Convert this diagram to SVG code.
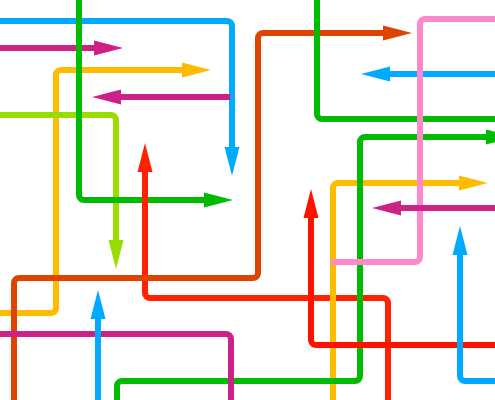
<svg xmlns="http://www.w3.org/2000/svg" xmlns:xlink="http://www.w3.org/1999/xlink" width="495" height="400" viewBox="0 0 495 400">
<style>
.c{fill:none;stroke-width:6;stroke-linejoin:round}
.blue{stroke:#00aaff}.fblue{fill:#00aaff}
.mag{stroke:#cc2288}.fmag{fill:#cc2288}
.yel{stroke:#ffbb00}.fyel{fill:#ffbb00}
.grn{stroke:#00bb00}.fgrn{fill:#00bb00}
.lime{stroke:#99dd00}.flime{fill:#99dd00}
.org{stroke:#dd4400}.forg{fill:#dd4400}
.pink{stroke:#ff88cc}
.red{stroke:#ff2200}.fred{fill:#ff2200}
.red2{stroke:#ff1100}.fred2{fill:#ff1100}
</style>
<defs>
<path id="ah" d="M0 0 L-29 -7.5 L-29 7.5 Z"/>
</defs>
<rect width="495" height="400" fill="#ffffff"/>
<g id="connectors">
<g id="blue1"><path class="c blue" d="M0 21 H227 A5 5 0 0 1 232 26 V148"/><use xlink:href="#ah" class="fblue" transform="translate(232,176) rotate(90)"/></g>
<g id="mag1"><path class="c mag" d="M0 48 H95"/><use xlink:href="#ah" class="fmag" transform="translate(123,48)"/></g>
<g id="yel1"><path class="c yel" d="M0 313 H51 A5 5 0 0 0 56 308 V75 A5 5 0 0 1 61 70 H183"/><use xlink:href="#ah" class="fyel" transform="translate(211,70)"/></g>
<g id="mag2"><path class="c mag" d="M230 97 H120"/><use xlink:href="#ah" class="fmag" transform="translate(92,97) rotate(180)"/></g>
<g id="lime1"><path class="c lime" d="M0 115 H111 A5 5 0 0 1 116 120 V241"/><use xlink:href="#ah" class="flime" transform="translate(116,269) rotate(90)"/></g>
<g id="grn1"><path class="c grn" d="M79 0 V195 A5 5 0 0 0 84 200 H205"/><use xlink:href="#ah" class="fgrn" transform="translate(233,200)"/></g>
<g id="red1"><path class="c red" d="M145 171 V293 A5 5 0 0 0 150 298 H383 A5 5 0 0 1 388 303 V400"/><use xlink:href="#ah" class="fred" transform="translate(145,143) rotate(-90)"/></g>
<g id="org1"><path class="c org" d="M14 400 V283 A5 5 0 0 1 19 278 H253 A5 5 0 0 0 258 273 V38 A5 5 0 0 1 263 33 H384"/><use xlink:href="#ah" class="forg" transform="translate(412,33)"/></g>
<g id="grn2"><path class="c grn" d="M317 0 V114 A5 5 0 0 0 322 119 H495"/></g>
<g id="blue2"><path class="c blue" d="M495 74 H389"/><use xlink:href="#ah" class="fblue" transform="translate(361,74) rotate(180)"/></g>
<g id="yel2"><path class="c yel" d="M333 400 V188 A5 5 0 0 1 338 183 H460"/><use xlink:href="#ah" class="fyel" transform="translate(488,183)"/></g>
<g id="grn3"><path class="c grn" d="M117 400 V386 A5 5 0 0 1 122 381 H355 A5 5 0 0 0 360 376 V142 A5 5 0 0 1 365 137 H486"/><use xlink:href="#ah" class="fgrn" transform="translate(515,137)"/></g>
<g id="pink1"><path class="c pink" d="M495 19 H425 A5 5 0 0 0 420 24 V257 A5 5 0 0 1 415 262 H331"/></g>
<g id="red2"><path class="c red2" d="M311 217 V340 A5 5 0 0 0 316 345 H495"/><use xlink:href="#ah" class="fred2" transform="translate(311,189) rotate(-90)"/></g>
<g id="mag3"><path class="c mag" d="M495 208 H400"/><use xlink:href="#ah" class="fmag" transform="translate(372,208) rotate(180)"/></g>
<g id="blue3"><path class="c blue" d="M460 254 V376 A5 5 0 0 0 465 381 H495"/><use xlink:href="#ah" class="fblue" transform="translate(460,226) rotate(-90)"/></g>
<g id="mag4"><path class="c mag" d="M0 334 H226 A5 5 0 0 1 231 339 V400"/></g>
<g id="blue4"><path class="c blue" d="M98 318 V400"/><use xlink:href="#ah" class="fblue" transform="translate(98,290) rotate(-90)"/></g>
</g>
</svg>
